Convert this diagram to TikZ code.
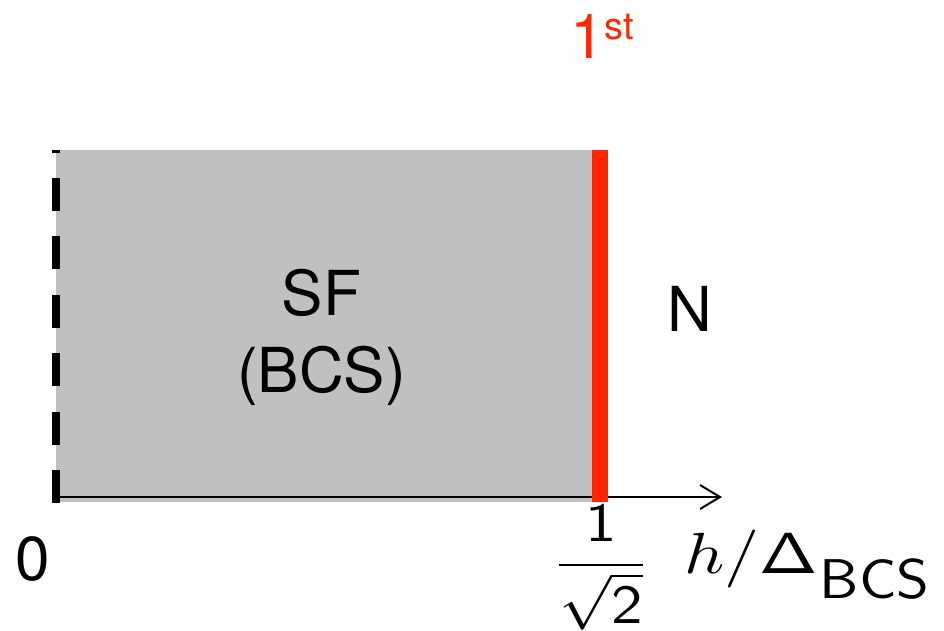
\documentclass[tikz,border=0pt]{standalone}
\usepackage{graphicx}
\usepackage[no-math]{fontspec}
\newfontfamily\helv{TeX Gyre Heros}
\usetikzlibrary{arrows.meta}
\definecolor{sfgray}{RGB}{191,193,192}
\definecolor{trred}{RGB}{255,38,0}
\tikzset{
  lbl/.style={font=\helv\fontsize{62}{74}\selectfont, inner sep=0pt},
  axisline/.style={line width=2pt, -{Straight Barb[length=20pt,width=24pt,line width=2pt]}},
  dashline/.style={line width=8pt, dash pattern=on 33pt off 25.4pt},
  redline/.style={trred, line width=16pt}
}
\begin{document}
\begin{tikzpicture}[x=1pt,y=-1pt]
\useasboundingbox (0,0) rectangle (944,630);
\fill[sfgray] (56,150) rectangle (600,502);
\coordinate (ax0) at (56,497);
\coordinate (ax1) at (722,497);
\draw[axisline] (ax0) -- (ax1);
\coordinate (d0) at (56,503);
\coordinate (d1) at (56,150);
\draw[dashline] (d0) -- (d1);
\coordinate (r0) at (600,150);
\coordinate (r1) at (600,502);
\draw[redline] (r0) -- (r1);
\node[lbl, anchor=base] (sf) at (321.5,315) {SF};
\node[lbl, anchor=base] (bcs) at (321.5,392) {(BCS)};
\node[lbl, anchor=base] (n) at (690,331) {N};
\node[lbl, anchor=base] (zero) at (33,580) {0};
\node[lbl, text=trred, anchor=base west] (first) at (570,58) {1\raisebox{19pt}{\fontsize{38}{40}\selectfont st}};
\node[inner sep=0pt] (frac) at (601,568) {\scalebox{6.3}[5.5]{$\displaystyle\frac{\mathsf{1}}{\sqrt{\mathsf{2}}}$}};
\node[inner sep=0pt, anchor=base west] (xl) at (684,573) {\scalebox{7}[5.8]{$h/\mathsf{\Delta}$}\hspace{2pt}\raisebox{-25pt}{\scalebox{1.12}[1]{\fontsize{56}{60}\selectfont\textsf{BCS}}}};
\end{tikzpicture}
\end{document}
